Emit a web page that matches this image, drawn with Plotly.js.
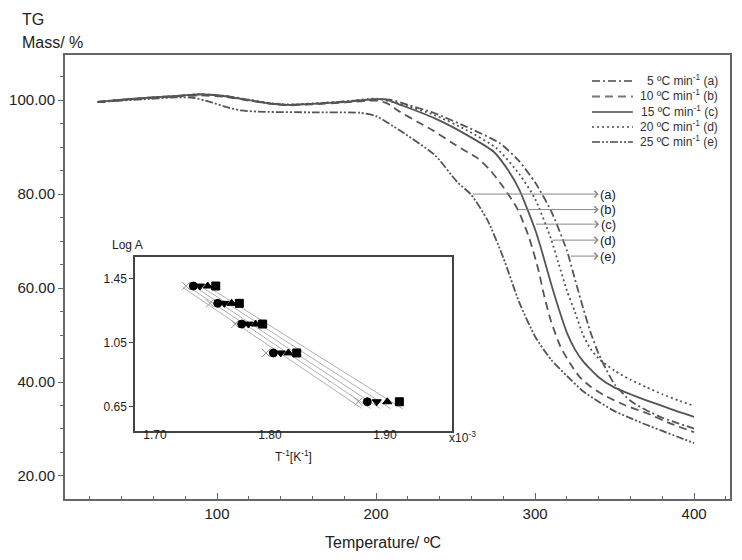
<!DOCTYPE html>
<html>
<head>
<meta charset="utf-8">
<script src="https://cdn.plot.ly/plotly-3.0.1.min.js"></script>
<style>
  body { margin: 0; background: #fff; }
  #plot { width: 742px; height: 560px; }
</style>
</head>
<body>
<div id="plot"></div>
<script>
// TG curves, mass (%)
var tempA = [25, 40, 60, 75, 90, 105, 120, 135, 145, 160, 180, 200, 210, 220, 237, 257, 278, 290, 300, 310, 320, 325, 330, 335, 340, 345, 350, 360, 370, 380, 390, 400];
var massA = [99.6, 100.0, 100.6, 100.9, 101.2, 100.9, 100.0, 99.2, 99.0, 99.2, 99.7, 100.2, 100.0, 99.0, 97.2, 94.3, 90.8, 87.0, 82.5, 76.5, 68.0, 62.0, 56.0, 50.5, 46.0, 42.5, 39.5, 36.0, 34.0, 32.4, 31.2, 30.1];

var tempB = [25, 40, 60, 75, 90, 105, 120, 135, 145, 160, 180, 200, 207, 215, 226, 236, 247, 256, 264, 272, 280, 289, 296, 302, 306, 310, 316, 322, 328, 335, 345, 357, 370, 385, 400];
var massB = [99.6, 100.0, 100.5, 100.8, 101.0, 100.7, 99.9, 99.2, 98.9, 99.1, 99.5, 99.9, 99.3, 97.5, 95.4, 93.5, 91.1, 89.2, 87.6, 85.0, 81.5, 76.8, 71.0, 64.0, 58.0, 53.0, 47.5, 44.0, 41.1, 39.0, 36.9, 35.0, 33.4, 31.2, 29.3];

var tempC = [25, 40, 60, 75, 90, 105, 120, 135, 145, 160, 180, 205, 216, 237, 257, 274, 283, 290, 300, 305, 310, 315, 320, 325, 330, 340, 350, 360, 370, 380, 390, 400];
var massC = [99.6, 100.1, 100.6, 100.9, 101.2, 100.8, 100.0, 99.2, 99.0, 99.2, 99.6, 100.2, 98.9, 96.1, 92.6, 89.0, 85.1, 81.0, 72.5, 67.0, 61.0, 55.5, 50.5, 47.0, 44.5, 41.0, 38.8, 37.4, 36.1, 34.9, 33.7, 32.6];

var tempD = [25, 40, 60, 75, 90, 105, 120, 135, 145, 160, 180, 200, 215, 237, 257, 276, 290, 300, 310, 315, 320, 325, 330, 335, 340, 350, 360, 370, 380, 390, 400];
var massD = [99.6, 100.1, 100.6, 100.9, 101.3, 100.9, 100.1, 99.3, 99.1, 99.3, 99.7, 100.3, 99.2, 96.8, 93.6, 89.7, 84.3, 79.0, 70.5, 65.0, 59.5, 55.0, 50.2, 47.0, 45.0, 42.4, 40.5, 38.9, 37.4, 36.1, 34.9];

var tempE = [25, 40, 60, 75, 85, 95, 105, 115, 130, 160, 190, 200, 216, 237, 251, 260, 270, 280, 290, 300, 310, 320, 330, 340, 350, 360, 370, 380, 390, 400];
var massE = [99.6, 99.9, 100.3, 100.6, 100.5, 99.7, 98.6, 97.8, 97.5, 97.4, 97.3, 96.6, 93.3, 88.3, 82.6, 79.8, 74.5, 66.5, 57.0, 49.7, 44.8, 41.3, 38.1, 35.8, 33.8, 32.3, 30.9, 29.6, 28.3, 27.0];

var seriesNames = [
  "5 ºC min<sup>-1</sup> (a)",
  "10 ºC min<sup>-1</sup> (b)",
  "15 ºC min<sup>-1</sup> (c)",
  "20 ºC min<sup>-1</sup> (d)",
  "25 ºC min<sup>-1</sup> (e)"
];
var seriesDash = ["8px,3px,2px,3px", "8px,5px", "solid", "2px,3px", "8px,2px,2px,2px,2px,2px"];

// inset: Log A vs 1/T (x10^-3)
var logA = [1.402, 1.294, 1.165, 0.985, 0.681];
var invTcross  = [1.727, 1.7478, 1.7696, 1.7965, 1.8768];
var invTcircle = [1.7333, 1.7545, 1.7754, 1.8029, 1.8846];
var invTdown   = [1.739, 1.7603, 1.7812, 1.8093, 1.8928];
var invTup     = [1.7458, 1.7667, 1.7875, 1.816, 1.902];
var invTsquare = [1.7528, 1.7733, 1.7936, 1.8232, 1.9125];

var grey = "#555";
var font = "Liberation Sans, Arial, sans-serif";

function tgTrace(x, y, i) {
  return {
    x: x, y: y, name: seriesNames[i], type: "scatter", mode: "lines", showlegend: false,
    line: {color: grey, width: 1.8, dash: seriesDash[i], shape: "spline", smoothing: 0.6},
    xaxis: "x", yaxis: "y"
  };
}

var traces = [
  tgTrace(tempA, massA, 0),
  tgTrace(tempB, massB, 1),
  tgTrace(tempC, massC, 2),
  tgTrace(tempD, massD, 3),
  tgTrace(tempE, massE, 4)
];

// fit lines for the inset
function fitLine(xs, ys) {
  var n = xs.length, sx = 0, sy = 0, sxx = 0, sxy = 0;
  for (var i = 0; i < n; i++) { sx += xs[i]; sy += ys[i]; sxx += xs[i] * xs[i]; sxy += xs[i] * ys[i]; }
  var b = (n * sxy - sx * sy) / (n * sxx - sx * sx);
  var a = (sy - b * sx) / n;
  var x0 = Math.min.apply(null, xs) - 0.003, x1 = Math.max.apply(null, xs) + 0.003;
  return {x: [x0, x1], y: [a + b * x0, a + b * x1]};
}

var insetSets = [
  {x: invTcross, sym: "x-thin", col: "#999", size: 8},
  {x: invTcircle, sym: "circle", col: "#000", size: 8},
  {x: invTdown, sym: "triangle-down", col: "#000", size: 8},
  {x: invTup, sym: "triangle-up", col: "#000", size: 8},
  {x: invTsquare, sym: "square", col: "#000", size: 8}
];

insetSets.forEach(function (s) {
  var f = fitLine(s.x, logA);
  traces.push({
    x: f.x, y: f.y, type: "scatter", mode: "lines", showlegend: false,
    line: {color: "#b0b0b0", width: 1}, xaxis: "x2", yaxis: "y2", hoverinfo: "skip"
  });
});
insetSets.forEach(function (s) {
  traces.push({
    x: s.x, y: logA, type: "scatter", mode: "markers", showlegend: false,
    marker: {symbol: s.sym, color: s.col, size: s.size, line: {color: s.col, width: 1}},
    xaxis: "x2", yaxis: "y2"
  });
});

// arrows from the curves to the (a)-(e) labels
var arrowLabels = ["(a)", "(b)", "(c)", "(d)", "(e)"];
var arrowY = [80.0, 76.7, 73.6, 70.2, 66.8];
var arrowFrom = [261, 290, 300.5, 311, 322.5];
var annotations = arrowLabels.map(function (lab, i) {
  return {
    xref: "x", yref: "y", x: arrowFrom[i], y: arrowY[i],
    axref: "x", ayref: "y", ax: 346, ay: arrowY[i],
    text: lab, showarrow: true, arrowside: "start", startarrowhead: 4,
    startarrowsize: 1.3, arrowwidth: 1, arrowcolor: "#888",
    font: {family: font, size: 13, color: "#222"}
  };
});

// legend key drawn by hand (tighter row spacing than plotly's legend)
var legendRowY = [0.9414, 0.9065, 0.8716, 0.8378, 0.8041];
var shapes = [];
seriesNames.forEach(function (nm, i) {
  shapes.push({
    type: "line", xref: "paper", yref: "paper",
    x0: 0.7925, x1: 0.854, y0: legendRowY[i], y1: legendRowY[i],
    line: {color: "#777", width: 2, dash: seriesDash[i]}
  });
  annotations.push({
    xref: "paper", yref: "paper", x: 0.985, y: legendRowY[i] + 0.003,
    xanchor: "right", yanchor: "middle", showarrow: false,
    text: nm, font: {family: font, size: 12, color: "#333"}
  });
});

annotations.push(
  {xref: "paper", yref: "paper", x: -0.068, y: 1.079, xanchor: "left", yanchor: "middle",
   text: "TG", showarrow: false, font: {family: font, size: 16, color: "#222"}},
  {xref: "paper", yref: "paper", x: -0.068, y: 1.029, xanchor: "left", yanchor: "middle",
   text: "Mass/ %", showarrow: false, font: {family: font, size: 16, color: "#222"}},
  {xref: "paper", yref: "paper", x: 0.478, y: -0.099, xanchor: "center", yanchor: "middle",
   text: "Temperature/ ºC", showarrow: false, font: {family: font, size: 16, color: "#222"}},
  {xref: "paper", yref: "paper", x: 0.0677, y: 0.572, xanchor: "left", yanchor: "middle",
   text: "Log A", showarrow: false, font: {family: font, size: 12, color: "#222"}},
  {xref: "paper", yref: "paper", x: 0.5744, y: 0.1396, xanchor: "left", yanchor: "middle",
   text: "x10<sup>-3</sup>", showarrow: false, font: {family: font, size: 12, color: "#222"}},
  {xref: "paper", yref: "paper", x: 0.343, y: 0.097, xanchor: "center", yanchor: "middle",
   text: "T<sup>-1</sup>[K<sup>-1</sup>]", showarrow: false, font: {family: font, size: 12, color: "#222"}}
);

var layout = {
  width: 742, height: 560,
  margin: {l: 65, r: 12, t: 55, b: 61},
  paper_bgcolor: "#fff", plot_bgcolor: "#fff",
  font: {family: font, color: "#222"},
  showlegend: false,
  xaxis: {
    range: [4.4, 422.6], showgrid: false, zeroline: false,
    showline: true, mirror: true, linecolor: "#666", linewidth: 2,
    tickmode: "linear", tick0: 0, dtick: 100, ticks: "inside", ticklen: 6, tickcolor: "#666",
    minor: {dtick: 20, ticks: "inside", ticklen: 3, tickcolor: "#666", showgrid: false},
    tickfont: {family: font, size: 15, color: "#222"},
    domain: [0, 1]
  },
  yaxis: {
    range: [15.1, 109.6], showgrid: false, zeroline: false,
    showline: true, mirror: true, linecolor: "#666", linewidth: 2,
    tickmode: "linear", tick0: 0, dtick: 20, tickformat: ".2f",
    ticks: "outside", ticklen: 5, tickcolor: "#666",
    minor: {dtick: 5, ticks: "outside", ticklen: 3, tickcolor: "#666", showgrid: false},
    tickfont: {family: font, size: 15, color: "#222"},
    domain: [0, 1]
  },
  xaxis2: {
    anchor: "y2", domain: [0.1053, 0.5815], range: [1.6826, 1.958],
    showgrid: false, zeroline: false, showline: true, mirror: true,
    linecolor: "#444", linewidth: 1.5,
    tickvals: [1.70, 1.80, 1.90], ticktext: ["1.70", "1.80", "1.90"],
    ticks: "", ticklabelstandoff: -8,
    tickfont: {family: font, size: 12, color: "#222"}
  },
  yaxis2: {
    anchor: "x2", domain: [0.1538, 0.5444], range: [0.5005, 1.581],
    showgrid: false, zeroline: false, showline: true, mirror: true,
    linecolor: "#444", linewidth: 1.5,
    tickvals: [0.65, 1.05, 1.45], ticktext: ["0.65", "1.05", "1.45"],
    ticks: "outside", ticklen: 4, tickcolor: "#444",
    tickfont: {family: font, size: 12, color: "#222"}
  },
  shapes: shapes,
  annotations: annotations
};

Plotly.newPlot("plot", traces, layout, {displayModeBar: false});
</script>
</body>
</html>
